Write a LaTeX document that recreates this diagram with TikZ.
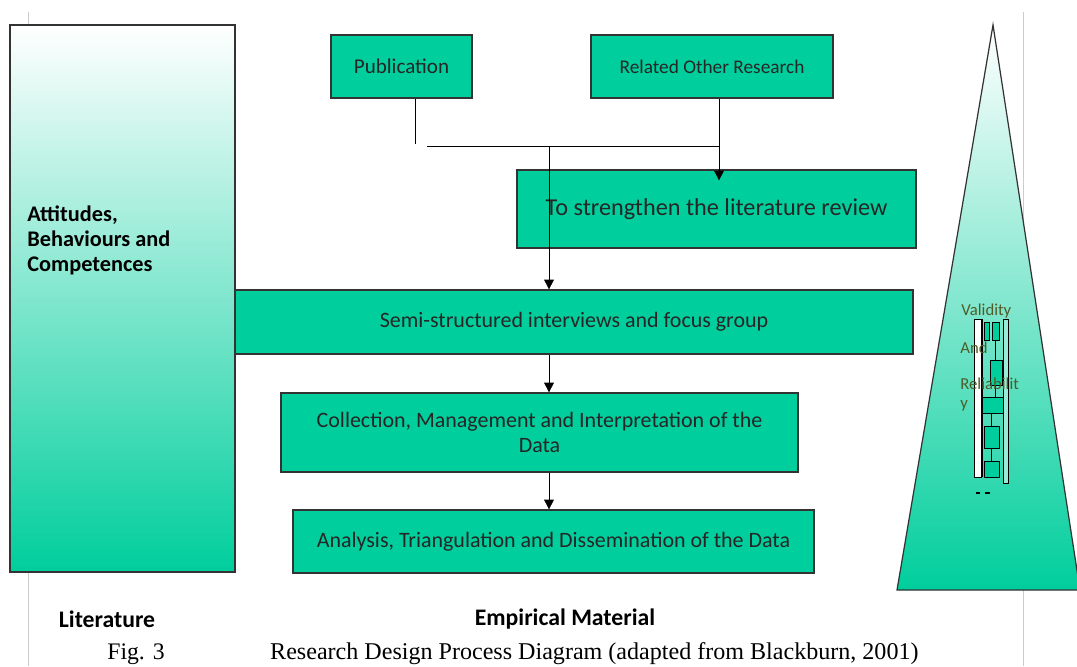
\documentclass[tikz,border=0pt]{standalone}
\usepackage{fontspec}
\setmainfont{Carlito}
\newfontfamily\capfont{Liberation Serif}
\usetikzlibrary{arrows.meta,positioning,calc}
\definecolor{boxgreen}{RGB}{0,206,156}
\definecolor{textolive}{RGB}{80,92,40}

\begin{document}
\begin{tikzpicture}[->,>={Triangle[length=5.5pt,width=5.5pt]},x=0.02cm,y=-0.02cm,
  box/.style={draw=black!80,fill=boxgreen,line width=0.7pt,align=center,text=black!85,font=\fontsize{12.5}{14.2}\selectfont},
  fade/.style={draw=black!80,line width=0.7pt,top color=white,bottom color=boxgreen},
  tag/.style={font=\bfseries\fontsize{13.5}{16}\selectfont},
  small/.style={anchor=west,inner sep=0,text=textolive,font=\fontsize{9.5}{11}\selectfont},
  mini/.style={-,draw=black,line width=0.35pt}]
  \clip (0,0) rectangle (1077,666);
  % page guides
  \draw[-,black!20] (28,12) -- (28,666);
  \draw[-,black!20] (1023,12) -- (1023,666);

  % literature column
  \node[fade, minimum width=4.5cm, minimum height=10.94cm] (attitudes) at (122.5,298.5) {};
  \node[anchor=west, align=left, inner sep=0, font=\bfseries\fontsize{12.7}{14.2}\selectfont] (abc) at (27,240) {Attitudes,\\Behaviours and\\Competences};

  % empirical column
  \node[box, minimum width=2.82cm, minimum height=1.26cm, font=\fontsize{12}{14}\selectfont] (pub) at (401.5,66.5) {Publication};
  \node[box, minimum width=4.84cm, minimum height=1.26cm, font=\fontsize{11}{13}\selectfont] (rel) at (712,66.5) {Related Other Research};
  \node[box, minimum width=7.98cm, minimum height=1.56cm, font=\fontsize{13.8}{16}\selectfont] (review) at (716.5,209) {To strengthen the literature review};
  \node[box, minimum width=13.56cm, minimum height=1.28cm] (semi) at (574,322) {Semi-structured interviews and focus group};
  \node[box, minimum width=10.34cm, minimum height=1.58cm] (coll) at (539.5,432.5) {Collection, Management and Interpretation of the\\Data};
  \node[box, minimum width=10.42cm, minimum height=1.26cm] (dissem) at (553.5,541.5) {Analysis, Triangulation and Dissemination of the Data};

  % sources feed the bus
  \coordinate (pubend) at (415,144);
  \coordinate (busL) at (427,146);
  \coordinate (busM) at (549,146);
  \coordinate (busR) at (719,146);
  \draw[-] (pub.south -| pubend) -- (pubend);
  \draw[-] (busL) -- (busR);
  \draw (rel.south -| busR) -- ($(review.north -| busR)+(0,11)$);
  \path (busM) edge (semi.north -| busM)
        (semi.south -| busM) edge (coll.north -| busM)
        (coll.south -| busM) edge (dissem.north -| busM);

  % validity triangle
  \draw[-,black!80,line width=0.7pt,top color=white,bottom color=boxgreen] (993,25) -- (897,590) -- (1080,590) -- cycle;
  \draw[mini,fill=white] (974,319) rectangle (981,477);
  \draw[mini] (982,319) -- (982,477);
  \draw[mini,fill=boxgreen!40] (1003,319) rectangle (1008,483);
  \draw[mini,fill=boxgreen] (984,322) rectangle (989,340);
  \draw[mini,fill=boxgreen] (992,322) rectangle (999,340);
  \draw[mini,fill=boxgreen] (990,360) rectangle (1002,385);
  \draw[mini,fill=boxgreen] (982,397) rectangle (1003,413);
  \draw[mini,fill=boxgreen] (984,426) rectangle (999,448);
  \draw[mini,fill=boxgreen] (984,461) rectangle (999,477);
  \draw[mini] (995,340) -- (995,360) (995,385) -- (995,397) (991,413) -- (991,426) (991,448) -- (991,461);
  \draw[mini,line width=1pt] (976,493) -- (980,493) (985,493) -- (990,493);
  \node[small] (valid) at (961,311) {Validity};
  \node[small] (andw) at (960,348) {And};
  \node[small] (relia) at (960,384) {Reliabilit};
  \node[small] (ylet) at (960,406) {y};

  % captions
  \node[tag] (littag) at (107,619) {Literature};
  \node[tag] (emptag) at (565,619) {Empirical Material};
  \node[font=\capfont\fontsize{13.5}{15}\selectfont] (fig) at (136,654) {Fig. 3};
  \node[anchor=west, font=\capfont\fontsize{13.7}{15}\selectfont] (title) at (264,654) {Research Design Process Diagram (adapted from Blackburn, 2001)};
\end{tikzpicture}
\end{document}
